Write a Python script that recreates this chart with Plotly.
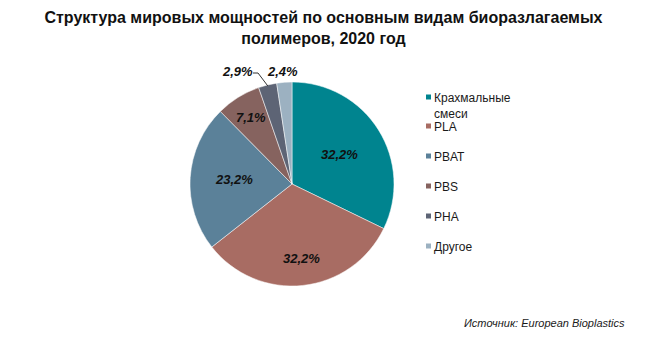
import math
import plotly.graph_objects as go

# Installed capacity shares by polymer type, 2020 (%)
categories = ["Крахмальные смеси", "PLA", "PBAT", "PBS", "PHA", "Другое"]
shares = [32.2, 32.2, 23.2, 7.1, 2.9, 2.4]
colors = ["#00848F", "#A86C63", "#5B8199", "#86635F", "#5D6475", "#9CB1C1"]
legend_labels = ["Крахмальные<br>смеси", "PLA", "PBAT", "PBS", "PHA", "Другое"]

W, H = 647, 341
cx, cy, r = 292, 184, 102  # pie centre / radius in pixels

# radial placement of each value label, as a fraction of the radius
label_radius = [0.55, 0.83, 0.78, 0.77, None, None]
# small slices get their labels above the pie (pixel positions)
outside_pos = {4: (237, 71), 5: (282, 71)}

FONT = "Liberation Sans, Arial"


def px(x):
    return x / W


def py(y):
    return (H - y) / H


fig = go.Figure()
fig.add_trace(go.Pie(
    labels=categories,
    values=shares,
    textinfo="none",
    sort=False,
    direction="clockwise",
    rotation=0,
    marker=dict(colors=colors, line=dict(color="white", width=0.5)),
    showlegend=False,
    hoverinfo="label+percent",
    domain=dict(x=[px(cx - r), px(cx + r)], y=[py(cy + r), py(cy - r)]),
))

annotations = []
shapes = []
label_font = dict(family=FONT, size=13, color="#111111", weight="bold", style="italic")
total = sum(shares)
cum = 0.0
for i, v in enumerate(shares):
    mid = (cum + v / 2) / total * 2 * math.pi  # clockwise from 12 o'clock
    cum += v
    txt = f"{v:.1f}%".replace(".", ",")
    if label_radius[i] is not None:
        rr = label_radius[i] * r
        annotations.append(dict(text=txt, xref="paper", yref="paper",
                                x=px(cx + rr * math.sin(mid)),
                                y=py(cy - rr * math.cos(mid)),
                                showarrow=False, font=label_font))
    else:
        lx, ly = outside_pos[i]
        annotations.append(dict(text=txt, xref="paper", yref="paper",
                                x=px(lx), y=py(ly), xanchor="center",
                                yanchor="middle", showarrow=False,
                                font=label_font))
        if i == 4:
            # leader line: short horizontal tick, then down to the slice edge
            ex = cx + (r - 1) * math.sin(mid)
            ey = cy - (r - 1) * math.cos(mid)
            path = (f"M {px(lx + 16)},{py(ly + 2)} L {px(lx + 21)},{py(ly + 2)} "
                    f"L {px(ex)},{py(ey)}")
            shapes.append(dict(type="path", xref="paper", yref="paper",
                               path=path, line=dict(color="#333333", width=1)))

# Legend: small squares with labels on the right
legend_y = [97, 126, 156, 186, 216, 246]
for lab, col, yy in zip(legend_labels, colors, legend_y):
    shapes.append(dict(type="rect", xref="paper", yref="paper",
                       x0=px(426), x1=px(431), y0=py(yy + 2.5), y1=py(yy - 2.5),
                       fillcolor=col, line=dict(width=0)))
    annotations.append(dict(text=lab, xref="paper", yref="paper",
                            x=px(432), y=py(yy - 8),
                            xanchor="left", yanchor="top", showarrow=False,
                            align="left",
                            font=dict(family=FONT, size=12, color="#1a1a1a")))

annotations.append(dict(text="<i>Источник: European Bioplastics</i>",
                        xref="paper", yref="paper", x=px(627), y=py(323),
                        xanchor="right", yanchor="middle", showarrow=False,
                        font=dict(family=FONT, size=11, color="#1a1a1a")))

fig.update_layout(
    width=W, height=H,
    margin=dict(l=0, r=0, t=0, b=0),
    paper_bgcolor="white",
    plot_bgcolor="white",
    title=dict(text="<b>Структура мировых мощностей по основным видам биоразлагаемых<br>полимеров, 2020 год</b>",
               x=0.5, xanchor="center", y=py(23), yanchor="middle",
               font=dict(family=FONT, size=16, color="#111111")),
    shapes=shapes,
    annotations=annotations,
)

fig.write_html("out.html")
